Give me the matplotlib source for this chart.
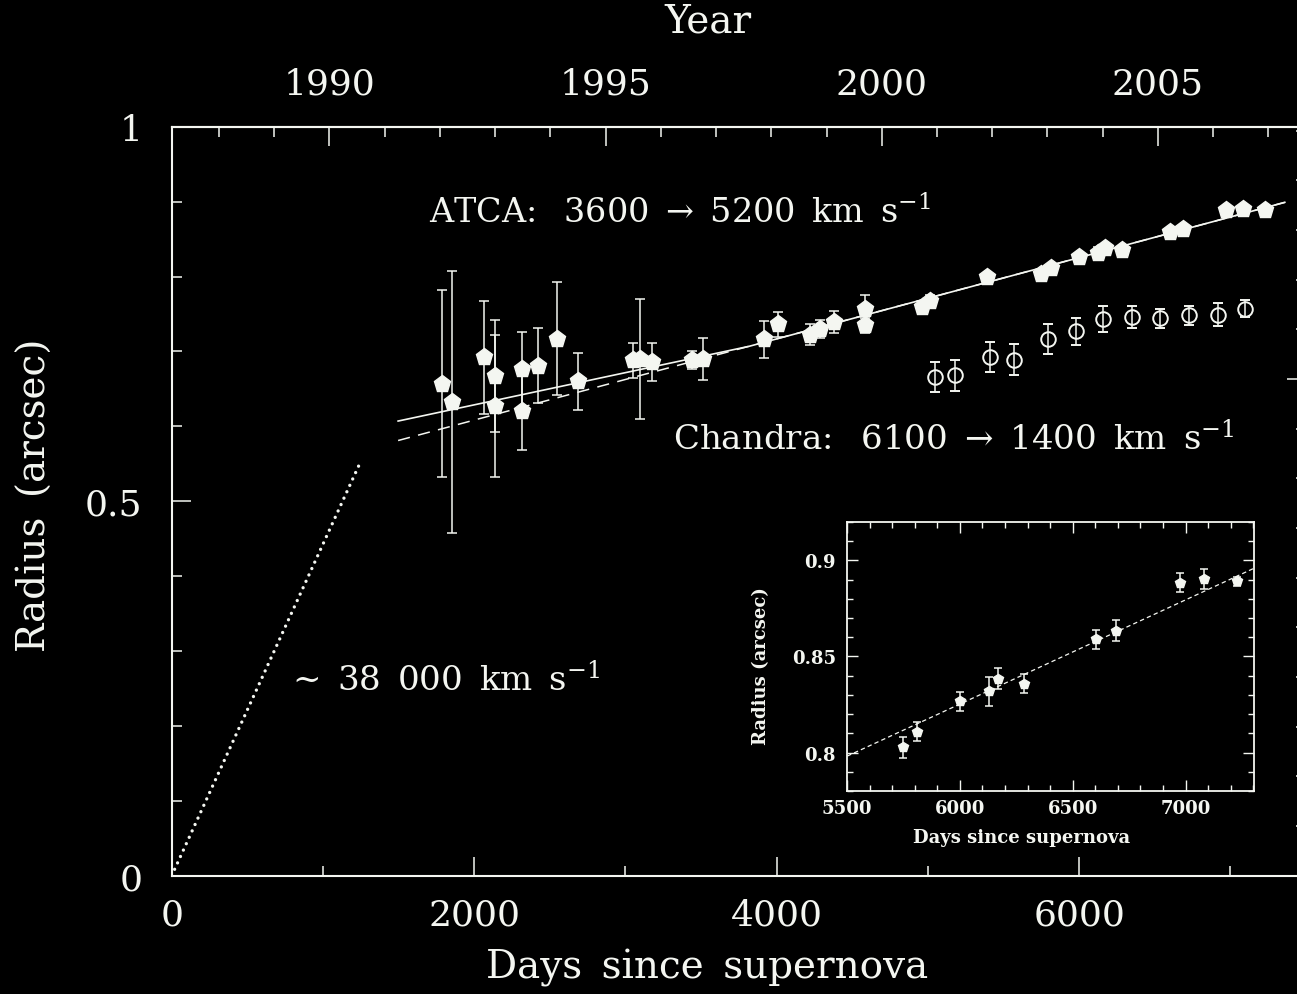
import matplotlib
matplotlib.use("Agg")
import matplotlib.pyplot as plt
from matplotlib.ticker import MultipleLocator, NullFormatter

plt.rcParams["font.family"] = ["DejaVu Serif"]
plt.rcParams["mathtext.fontset"] = "dejavuserif"

# ATCA radius fits, early epochs (days since SN, arcsec, 1-sigma)
atca_days = [1786, 1852, 2067, 2140, 2140, 2319, 2319, 2425, 2546, 2685,
             3051, 3097, 3175, 3439, 3516, 3913, 4012, 4221, 4287, 4376,
             4585, 4585, 4960, 5015, 5390]
atca_radius = [0.657, 0.632, 0.692, 0.667, 0.627, 0.676, 0.621, 0.681, 0.717, 0.660,
               0.688, 0.690, 0.686, 0.688, 0.690, 0.716, 0.736, 0.722, 0.730, 0.739,
               0.757, 0.735, 0.759, 0.767, 0.800]
atca_err = [0.125, 0.175, 0.075, 0.075, 0.095, 0.050, 0.052, 0.050, 0.075, 0.038,
            0.023, 0.080, 0.025, 0.012, 0.028, 0.025, 0.017, 0.014, 0.012, 0.015,
            0.018, 0.010, 0.008, 0.008, 0.005]

# ATCA late epochs (also shown in the zoomed panel)
late_days = [5749, 5812, 6002, 6127, 6171, 6284, 6602, 6690, 6973, 7081, 7226]
late_radius = [0.8028, 0.8109, 0.8266, 0.8319, 0.8384, 0.8359, 0.8590, 0.8635,
               0.8884, 0.8903, 0.8891]
late_err = [0.0054, 0.0050, 0.0050, 0.0075, 0.0055, 0.0050, 0.0050, 0.0054,
            0.0050, 0.0050, 0.0025]

# Chandra X-ray ring radius
chandra_days = [5044, 5176, 5412, 5566, 5794, 5981, 6161, 6349, 6536, 6724, 6915, 7099]
chandra_radius = [0.666, 0.668, 0.692, 0.689, 0.716, 0.727, 0.743, 0.746, 0.744,
                  0.748, 0.749, 0.757]
chandra_err = [0.020, 0.021, 0.020, 0.021, 0.020, 0.018, 0.017, 0.015, 0.013,
               0.013, 0.015, 0.011]

# broken-line fit, single linear fit, early free expansion
broken_days = [1497, 3818, 7360]
broken_radius = [0.607, 0.7068, 0.899]
linear_days = [1497, 7360]
linear_radius = [0.581, 0.899]
free_days = [0, 1245]
free_radius = [0.0, 0.551]

year_ticks = [1990, 1995, 2000, 2005]
SN_EPOCH = 1987.146
CM17_PER_ARCSEC = 1 / 0.1326

fg = "#f4f6f1"
W, H = 1297, 995
SP = "\u2002"  # en space, the plotting font spaces words widely


def px_rect(left, top, right, bottom):
    return [left / W, 1 - bottom / H, (right - left) / W, (bottom - top) / H]


fig = plt.figure(figsize=(W / 100, H / 100), dpi=100, facecolor="black")

# ---- main panel ----
ax = fig.add_axes(px_rect(171.7, 127.7, 1306, 876.7))
ax.set_facecolor("black")
ax.set_xlim(0, 7500)
ax.set_ylim(0, 1)
for s in ax.spines.values():
    s.set_color(fg)
    s.set_linewidth(1.5)

ax.plot(free_days, free_radius, color=fg, lw=2.4, linestyle=(0, (0.01, 2.1)),
        dash_capstyle="round", zorder=2)
ax.plot(linear_days, linear_radius, color=fg, lw=1.1, linestyle=(0, (8, 5.5)), zorder=2)
ax.plot(broken_days, broken_radius, color=fg, lw=1.2, zorder=2)

ax.errorbar(atca_days, atca_radius, yerr=atca_err, fmt="p", ms=12.5, mfc=fg, mec=fg,
            ecolor=fg, elinewidth=1.1, capsize=3.6, capthick=1.1, zorder=3)
ax.errorbar(late_days, late_radius, yerr=late_err, fmt="p", ms=12.5, mfc=fg, mec=fg,
            ecolor=fg, elinewidth=1.1, capsize=3.6, capthick=1.1, zorder=3)
ax.errorbar(chandra_days, chandra_radius, yerr=chandra_err, fmt="o", ms=10.5,
            mfc="none", mec=fg, mew=1.4, ecolor=fg, elinewidth=1.1, capsize=3.6,
            capthick=1.1, zorder=3)

ax.xaxis.set_major_locator(MultipleLocator(2000))
ax.xaxis.set_minor_locator(MultipleLocator(1000))
ax.yaxis.set_major_locator(MultipleLocator(0.5))
ax.yaxis.set_minor_locator(MultipleLocator(0.1))
ax.yaxis.set_major_formatter(plt.FuncFormatter(lambda v, p: f"{v:g}"))
ax.tick_params(which="both", direction="in", colors=fg, width=1.1,
               top=False, right=False, labelsize=26)
ax.tick_params(which="major", length=13.7)
ax.tick_params(which="minor", length=7.2)
ax.tick_params(axis="x", pad=16)
ax.tick_params(axis="y", pad=21)

# calendar years along the top
yr = ax.secondary_xaxis("top", functions=(lambda d: SN_EPOCH + d / 365.25,
                                          lambda y: (y - SN_EPOCH) * 365.25))
yr.set_xticks(year_ticks)
yr.xaxis.set_minor_locator(MultipleLocator(1))
yr.spines["top"].set_color(fg)
yr.spines["top"].set_linewidth(1.5)
yr.tick_params(which="both", direction="in", colors=fg, width=1.1, labelsize=26, pad=19)
yr.tick_params(which="major", length=13.7)
yr.tick_params(which="minor", length=7.2)

# physical radius (1e17 cm) along the right
rcm = ax.secondary_yaxis("right", functions=(lambda r: r * CM17_PER_ARCSEC,
                                             lambda c: c / CM17_PER_ARCSEC))
rcm.yaxis.set_major_locator(MultipleLocator(5))
rcm.yaxis.set_minor_locator(MultipleLocator(0.5))
rcm.yaxis.set_major_formatter(NullFormatter())
rcm.spines["right"].set_color(fg)
rcm.tick_params(which="both", direction="in", colors=fg, width=1.1)
rcm.tick_params(which="major", length=13.7)
rcm.tick_params(which="minor", length=7.2)

fig.text(707 / W, 1 - 968 / H, f"Days{SP}since{SP}supernova", ha="center", va="center",
         fontsize=28, color=fg)
fig.text(708 / W, 1 - 22 / H, "Year", ha="center", va="center", fontsize=28, color=fg)
fig.text(35 / W, 1 - 495 / H, f"Radius{SP}(arcsec)", ha="center", va="center",
         rotation=90, fontsize=28, color=fg)

fig.text(429 / W, 1 - 222.7 / H, f"ATCA:{SP} 3600{SP}→{SP}5200{SP}km{SP}s$^{{-1}}$",
         ha="left", va="baseline", fontsize=24, color=fg)
fig.text(673 / W, 1 - 451 / H, f"Chandra:{SP} 6100{SP}→{SP}1400{SP}km{SP}s$^{{-1}}$",
         ha="left", va="baseline", fontsize=24.5, color=fg)
fig.text(292 / W, 1 - 692 / H, f"~{SP}38{SP}000{SP}km{SP}s$^{{-1}}$", ha="left",
         va="baseline", fontsize=24.5, color=fg)

# ---- zoomed panel of late ATCA epochs ----
ins = fig.add_axes(px_rect(847, 523, 1254, 792))
ins.set_facecolor("black")
ins.set_xlim(5500, 7303)
ins.set_ylim(0.78, 0.92)
for s in ins.spines.values():
    s.set_color(fg)
    s.set_linewidth(1.3)
ins.plot(linear_days, linear_radius, color=fg, lw=0.9, linestyle=(0, (3.5, 2.5)), zorder=2)
ins.errorbar(late_days, late_radius, yerr=late_err, fmt="p", ms=7, mfc=fg, mec=fg,
             ecolor=fg, elinewidth=1.1, capsize=2.8, capthick=1.1, zorder=3)
ins.xaxis.set_major_locator(MultipleLocator(500))
ins.xaxis.set_minor_locator(MultipleLocator(100))
ins.yaxis.set_major_locator(MultipleLocator(0.05))
ins.yaxis.set_minor_locator(MultipleLocator(0.01))
ins.yaxis.set_major_formatter(plt.FuncFormatter(lambda v, p: f"{v:g}"))
ins.tick_params(which="both", direction="in", colors=fg, width=1.0,
                top=True, right=True, labelsize=13)
ins.tick_params(which="major", length=8)
ins.tick_params(which="minor", length=4)
ins.tick_params(axis="x", pad=6)
ins.tick_params(axis="y", pad=8)
for lab in ins.get_xticklabels() + ins.get_yticklabels():
    lab.set_fontweight("bold")
fig.text(1022 / W, 1 - 838 / H, "Days since supernova", ha="center", va="center",
         fontsize=13, fontweight="bold", color=fg)
fig.text(761 / W, 1 - 666 / H, "Radius (arcsec)", ha="center", va="center",
         rotation=90, fontsize=13, fontweight="bold", color=fg)

fig.savefig("out.png", dpi=100, facecolor="black")
